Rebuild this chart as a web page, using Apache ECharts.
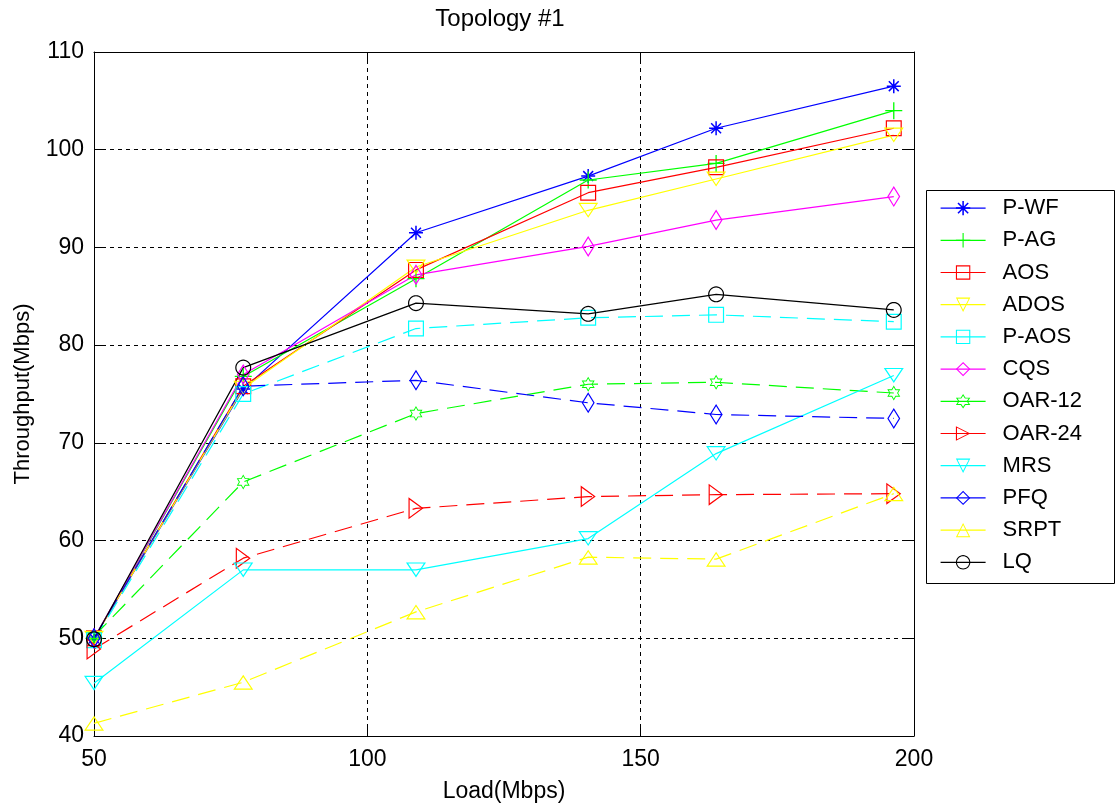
<!DOCTYPE html>
<html>
<head>
<meta charset="utf-8">
<script src="https://cdn.jsdelivr.net/npm/echarts@6/dist/echarts.min.js"></script>
<style>
html,body{margin:0;padding:0;background:#fff;}
#chart{width:1115px;height:810px;}
</style>
</head>
<body>
<div id="chart"></div>
<script>
// ---------- DATA ----------
const titleText = 'Topology #1';
const xName = 'Load(Mbps)';
const yName = 'Throughput(Mbps)';
const xLoad = [50, 77.3, 108.9, 140.4, 163.8, 196.3];
const seriesNames = ['P-WF','P-AG','AOS','ADOS','P-AOS','CQS','OAR-12','OAR-24','MRS','PFQ','SRPT','LQ'];
const pWF   = [50.0, 75.5, 91.5, 97.3, 102.2, 106.5];
const pAG   = [50.0, 76.8, 86.8, 96.9, 98.6, 104.0];
const aos   = [50.0, 75.8, 87.7, 95.6, 98.2, 102.2];
const ados  = [50.0, 75.6, 88.0, 93.8, 97.0, 101.5];
const pAOS  = [49.8, 75.0, 81.7, 82.8, 83.1, 82.4];
const cqs   = [50.0, 77.0, 87.2, 90.1, 92.8, 95.2];
const oar12 = [50.2, 66.0, 73.0, 76.0, 76.2, 75.1];
const oar24 = [48.9, 58.2, 63.3, 64.5, 64.7, 64.8];
const mrs   = [45.4, 57.0, 57.0, 60.2, 68.9, 76.9];
const pfq   = [50.0, 75.8, 76.4, 74.1, 72.9, 72.5];
const srpt  = [41.3, 45.5, 52.7, 58.3, 58.1, 64.8];
const lq    = [49.9, 77.7, 84.3, 83.2, 85.2, 83.6];
const seriesValues = [pWF, pAG, aos, ados, pAOS, cqs, oar12, oar24, mrs, pfq, srpt, lq];
const xTicks = {min: 50, max: 200, interval: 50};
const yTicks = {min: 40, max: 110, interval: 10};

// ---------- FONTS ----------
function hasFont(f){
  const c = document.createElement('canvas').getContext('2d');
  const s = 'abcdefghijklmnopqrstuvwxyzABCDEFGHIJ0123456789';
  c.font = '40px monospace'; const a = c.measureText(s).width;
  c.font = '40px "' + f + '", monospace'; const b = c.measureText(s).width;
  c.font = '40px serif'; const a2 = c.measureText(s).width;
  c.font = '40px "' + f + '", serif'; const b2 = c.measureText(s).width;
  return a !== b || a2 !== b2;
}
const narrow = hasFont('Liberation Sans Narrow');
const AXFONT = narrow ? '"Liberation Sans Narrow"' : '"Liberation Sans"';
const AXSIZE = narrow ? 26 : 23;
const REGFONT = '"Liberation Sans", Arial, sans-serif';

// ---------- SYMBOLS (hollow outlines) ----------
function poly(pts){ return 'M' + pts.map(p => p[0].toFixed(3) + ',' + p[1].toFixed(3)).join('L') + 'Z'; }
function ring(pts, c, k){
  const inner = pts.map(p => [c[0] + (p[0]-c[0])*k, c[1] + (p[1]-c[1])*k]).reverse();
  return 'path://' + poly(pts) + poly(inner);
}
function bars(angles, L, hw){
  let d = '';
  angles.forEach(a => {
    const dx = Math.cos(a), dy = Math.sin(a), nx = -dy, ny = dx;
    const c = [L, L];
    d += poly([
      [c[0]-L*dx+hw*nx, c[1]-L*dy+hw*ny],
      [c[0]+L*dx+hw*nx, c[1]+L*dy+hw*ny],
      [c[0]+L*dx-hw*nx, c[1]+L*dy-hw*ny],
      [c[0]-L*dx-hw*nx, c[1]-L*dy-hw*ny]
    ]);
  });
  return 'path://' + d;
}
const symStar = bars([0, Math.PI/2, Math.PI/4, -Math.PI/4], 7, 0.75);
const symPlus = bars([0, Math.PI/2], 8.5, 0.65);
const symSquare = ring([[0,0],[16,0],[16,16],[0,16]], [8,8], 0.85);
const symDiamond = ring([[6.5,0],[13,10.5],[6.5,21],[0,10.5]], [6.5,10.5], 0.79);
const symTriDown = ring([[0,0],[20,0],[10,15]], [10,5.35], 0.78);
const symTriUp = ring([[10,0],[20,15],[0,15]], [10,9.65], 0.78);
const symTriRight = ring([[0,0],[15,11],[0,22]], [5.57,11], 0.79);
const symCircle = (function(){ const p=[]; for(let i=0;i<32;i++){const a=i/32*2*Math.PI; p.push([8+8*Math.cos(a), 8+8*Math.sin(a)]);} return ring(p,[8,8],0.85); })();
const symHex = (function(){ const p=[]; const R=7.5, r=R/Math.sqrt(3); for(let i=0;i<12;i++){const a=-Math.PI/2 + i*Math.PI/6; const rr = i%2===0?R:r; p.push([7.5+rr*Math.cos(a), 7.5+rr*Math.sin(a)]);} return ring(p,[7.5,7.5],0.76); })();

const styles = [
  {color:'#0000ff', dash:false, symbol:symStar, size:[14,14]},
  {color:'#00ff00', dash:false, symbol:symPlus, size:[17,17]},
  {color:'#ff0000', dash:false, symbol:symSquare, size:[16,16]},
  {color:'#ffff00', dash:false, symbol:symTriDown, size:[20,15]},
  {color:'#00ffff', dash:true,  symbol:symSquare, size:[16,16]},
  {color:'#ff00ff', dash:false, symbol:symDiamond, size:[13,21]},
  {color:'#00ff00', dash:true,  symbol:symHex, size:[13,15]},
  {color:'#ff0000', dash:true,  symbol:symTriRight, size:[15,22]},
  {color:'#00ffff', dash:false, symbol:symTriDown, size:[20,15]},
  {color:'#0000ff', dash:true,  symbol:symDiamond, size:[13,21]},
  {color:'#ffff00', dash:true,  symbol:symTriUp, size:[20,15]},
  {color:'#000000', dash:false, symbol:symCircle, size:[16,16]}
];

const series = seriesNames.map((name, i) => ({
  name: name,
  type: 'line',
  data: xLoad.map((x, j) => [x, seriesValues[i][j]]),
  symbol: styles[i].symbol,
  symbolSize: styles[i].size,
  showSymbol: true,
  itemStyle: {color: styles[i].color},
  lineStyle: {color: styles[i].color, width: 1.2, type: styles[i].dash ? [18, 9] : 'solid'},
  emphasis: {disabled: true},
  animation: false,
  z: 3
}));

const grid = {left: 94, right: 201, top: 52, bottom: 74};
const gridLine = {show: true, lineStyle: {color: '#000', width: 1, type: [4, 4]}};
const axisLine = {show: true, lineStyle: {color: '#000', width: 1}};
const tick = {show: true, inside: true, length: 8, lineStyle: {color: '#000'}};

const option = {
  backgroundColor: '#fff',
  animation: false,
  grid: grid,
  graphic: [
    {type: 'text', x: 500, y: 7, z: 10,
      style: {text: titleText, fontSize: 24, fontFamily: REGFONT, fill: '#000', align: 'center', verticalAlign: 'top'}},
    {type: 'rect', shape: {x: 926.5, y: 190.5, width: 188, height: 393}, z: 0,
      style: {fill: '#fff', stroke: '#000', lineWidth: 1}}
  ],
  legend: {
    orient: 'vertical',
    left: 940, top: 192,
    padding: 0,
    itemGap: 0,
    itemWidth: 45,
    itemHeight: 18,
    data: seriesNames,
    selectedMode: false,
    lineStyle: {type: 'solid', width: 1.2},
    textStyle: {color: '#000', fontSize: AXSIZE - 1, fontFamily: AXFONT, lineHeight: 32.2, padding: [0, 0, 0, 12]},
    z: 5
  },
  xAxis: [
    {type: 'value', min: xTicks.min, max: xTicks.max, interval: xTicks.interval, position: 'bottom',
      name: xName, nameLocation: 'middle', nameGap: 44,
      nameTextStyle: {color: '#000', fontSize: AXSIZE, fontFamily: AXFONT},
      axisLine: axisLine, axisTick: tick, splitLine: gridLine,
      axisLabel: {color: '#000', fontSize: AXSIZE, fontFamily: AXFONT, margin: 12}},
    {type: 'value', min: xTicks.min, max: xTicks.max, interval: xTicks.interval, position: 'top',
      axisLine: axisLine, axisTick: tick, splitLine: {show: false}, axisLabel: {show: false}}
  ],
  yAxis: [
    {type: 'value', min: yTicks.min, max: yTicks.max, interval: yTicks.interval, position: 'left',
      name: yName, nameLocation: 'middle', nameGap: 60,
      nameTextStyle: {color: '#000', fontSize: AXSIZE - 1, fontFamily: AXFONT},
      axisLine: axisLine, axisTick: tick, splitLine: gridLine,
      axisLabel: {color: '#000', fontSize: AXSIZE, fontFamily: AXFONT, margin: 10}},
    {type: 'value', min: yTicks.min, max: yTicks.max, interval: yTicks.interval, position: 'right',
      axisLine: axisLine, axisTick: tick, splitLine: {show: false}, axisLabel: {show: false}}
  ],
  series: series
};

const chart = echarts.init(document.getElementById('chart'), null, {renderer: 'canvas'});
chart.setOption(option);
</script>
</body>
</html>
